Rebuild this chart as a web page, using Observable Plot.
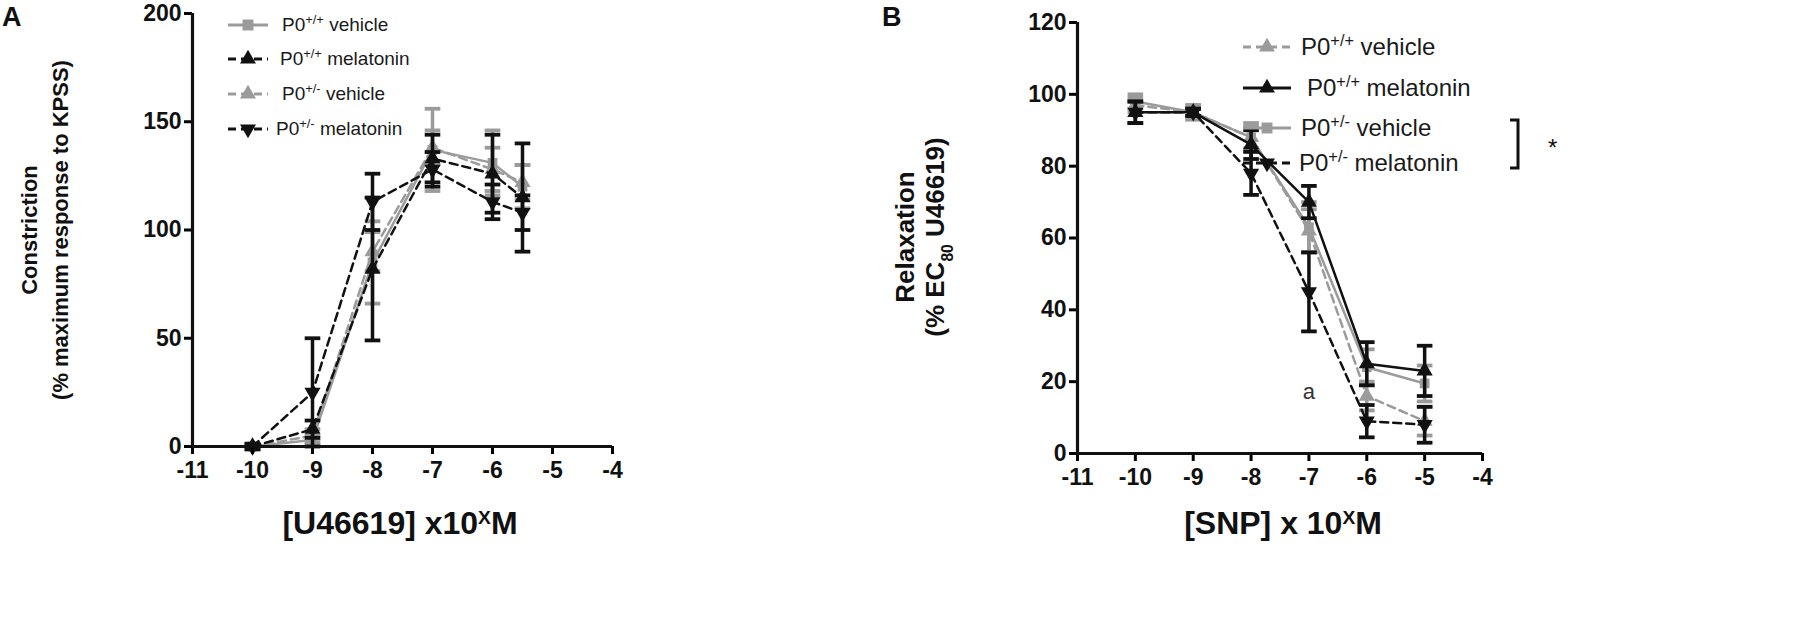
<!DOCTYPE html>
<html><head><meta charset="utf-8">
<script src="https://cdn.jsdelivr.net/npm/d3@7"></script>
<script src="https://cdn.jsdelivr.net/npm/@observablehq/plot@0.6"></script>
<style>
body{margin:0;background:#fff;font-family:"Liberation Sans",Arial,sans-serif;}
#wrap{position:relative;width:1800px;height:621px;overflow:hidden;background:#fff;}
.panel{position:absolute;top:0;}
.leg{position:absolute;color:#1a1a1a;}
.leg .row{position:absolute;left:0;display:flex;align-items:center;white-space:nowrap;}
.leg sup{font-size:0.68em;vertical-align:0.55em;line-height:0;}
</style></head><body><div id="wrap"></div>
<script>
// ---------- data ----------
const seriesNames = ["P0+/+ vehicle", "P0+/+ melatonin", "P0+/- vehicle", "P0+/- melatonin"];
// Panel A: U46619 constriction
const doseA = [-10, -9, -8, -7, -6, -5.5];
const aVehWT  = [0, 3, 85, 137, 131, 120];
const aVehWTe = [1, 2, 19, 19, 15, 10];
const aMelWT  = [0, 8, 82, 133, 126, 115];
const aMelWTe = [1, 4, 33, 11, 18, 25];
const aVehHet  = [0, 5, 90, 138, 128, 122];
const aVehHete = [1, 3, 9, 8, 10, 8];
const aMelHet  = [0, 25, 113, 128, 113, 108];
const aMelHete = [1, 25, 13, 8, 8, 8];
// Panel B: SNP relaxation
const doseB = [-10, -9, -8, -7, -6, -5];
const bVehWT  = [97, 95, 88, 62, 16, 9];
const bVehWTe = [2, 2, 3, 6, 4, 4];
const bMelWT  = [95, 95, 86, 70, 25, 23];
const bMelWTe = [3, 1, 4, 4.5, 6, 7];
const bVehHet  = [98, 95, 88, 63, 24, 19.5];
const bVehHete = [2, 2, 4, 7, 5, 5];
const bMelHet  = [95, 95, 78, 45, 9, 8];
const bMelHete = [3, 1, 6, 11, 4.5, 5];
const xTicks = [-11, -10, -9, -8, -7, -6, -5, -4];
const yTicksA = [0, 50, 100, 150, 200];
const yTicksB = [0, 20, 40, 60, 80, 100, 120];
const noteB = [{x: -7, y: 17, label: "a"}];

// ---------- helpers ----------
const GRAY = "#9b9b9b";
const FONT = "Liberation Sans, Arial, sans-serif";
const capSym = {draw(ctx, size){ const w = Math.sqrt(size); ctx.moveTo(-w, 0); ctx.lineTo(w, 0); }};
const triDown = {draw(ctx, size){
  const y = -Math.sqrt(size / (Math.sqrt(3) * 3));
  ctx.moveTo(0, -y * 2); ctx.lineTo(-Math.sqrt(3) * y, y); ctx.lineTo(Math.sqrt(3) * y, y); ctx.closePath(); }};

function rows(dose, v, e, name){ return dose.map((x, i) => ({x, y: v[i], e: e[i], name})); }

function seriesMarks(data, {color, dash, symbol, r}){
  return [
    Plot.ruleX(data, {x: "x", y1: d => d.y - d.e, y2: d => d.y + d.e, stroke: color, strokeWidth: 3.5}),
    Plot.dot(data, {x: "x", y: d => d.y + d.e, symbol: capSym, r: 4.4, stroke: color, strokeWidth: 3.8, fill: "none"}),
    Plot.dot(data, {x: "x", y: d => d.y - d.e, symbol: capSym, r: 4.4, stroke: color, strokeWidth: 3.8, fill: "none"}),
    Plot.line(data, {x: "x", y: "y", stroke: color, strokeWidth: 2.5, strokeDasharray: dash}),
    Plot.dot(data, {x: "x", y: "y", symbol, r, fill: color, stroke: "none"})
  ];
}

function axes(yTicks){
  const common = {strokeWidth: 3, fontSize: 23, fontWeight: "bold", fill: "#111", label: null, tickFormat: d => String(d)};
  return [
    Plot.axisX({...common, ticks: xTicks, tickSize: 8, tickPadding: 7}),
    Plot.axisY({...common, ticks: yTicks, tickSize: 8, tickPadding: 3}),
    Plot.ruleY([yTicks[0]], {strokeWidth: 3.2, stroke: "#111"}),
    Plot.ruleX([xTicks[0]], {strokeWidth: 3.2, stroke: "#111"})
  ];
}

const wrap = document.getElementById("wrap");

// ---------- Panel A ----------
const A = {
  vehWT: rows(doseA, aVehWT, aVehWTe, seriesNames[0]),
  melWT: rows(doseA, aMelWT, aMelWTe, seriesNames[1]),
  vehHet: rows(doseA, aVehHet, aVehHete, seriesNames[2]),
  melHet: rows(doseA, aMelHet, aMelHete, seriesNames[3])
};
const plotA = Plot.plot({
  width: 700, height: 621,
  marginLeft: 192, marginRight: 88, marginTop: 13, marginBottom: 175,
  style: {fontFamily: FONT, background: "transparent", overflow: "visible"},
  x: {domain: [-11, -4]},
  y: {domain: [0, 200]},
  marks: [
    ...seriesMarks(A.vehWT, {color: GRAY, dash: null, symbol: "square", r: 5.5}),
    ...seriesMarks(A.vehHet, {color: GRAY, dash: "8,5", symbol: "triangle", r: 6}),
    ...seriesMarks(A.melWT, {color: "#111", dash: "8,5", symbol: "triangle", r: 6}),
    ...seriesMarks(A.melHet, {color: "#111", dash: "8,5", symbol: triDown, r: 6}),
    ...axes(yTicksA)
  ]
});
plotA.classList.add("panel"); plotA.style.left = "0px";
wrap.appendChild(plotA);

// ---------- Panel B ----------
const B = {
  vehWT: rows(doseB, bVehWT, bVehWTe, seriesNames[0]),
  melWT: rows(doseB, bMelWT, bMelWTe, seriesNames[1]),
  vehHet: rows(doseB, bVehHet, bVehHete, seriesNames[2]),
  melHet: rows(doseB, bMelHet, bMelHete, seriesNames[3])
};
const plotB = Plot.plot({
  width: 700, height: 621,
  marginLeft: 197, marginRight: 98, marginTop: 22, marginBottom: 168,
  style: {fontFamily: FONT, background: "transparent", overflow: "visible"},
  x: {domain: [-11, -4]},
  y: {domain: [0, 120]},
  marks: [
    ...seriesMarks(B.vehWT, {color: GRAY, dash: "8,5", symbol: "triangle", r: 6}),
    ...seriesMarks(B.vehHet, {color: GRAY, dash: null, symbol: "square", r: 5.5}),
    ...seriesMarks(B.melHet, {color: "#111", dash: "8,5", symbol: triDown, r: 6}),
    ...seriesMarks(B.melWT, {color: "#111", dash: null, symbol: "triangle", r: 6}),
    Plot.text(noteB, {x: "x", y: "y", text: "label", fontSize: 22, fill: "#333"}),
    ...axes(yTicksB)
  ]
});
plotB.classList.add("panel"); plotB.style.left = "880px";
wrap.appendChild(plotB);

// ---------- annotations (titles, panel letters) ----------
function addTexts(svg, items){
  const s = d3.select(svg);
  items.forEach(it => {
    const t = s.append("text").attr("font-family", FONT)
      .attr("font-size", it.size).attr("font-weight", it.weight || "bold").attr("fill", "#111")
      .attr("text-anchor", it.anchor || "middle")
      .attr("transform", `translate(${it.x},${it.y})` + (it.rot ? ` rotate(${it.rot})` : ""));
    it.parts.forEach(p => {
      const ts = t.append("tspan").text(p.t);
      if (p.sup) ts.attr("baseline-shift", "super").attr("font-size", it.size * 0.6);
      if (p.sub) ts.attr("baseline-shift", "sub").attr("font-size", it.size * 0.6);
    });
  });
}
addTexts(plotA, [
  {x: 2, y: 26, size: 27, anchor: "start", parts: [{t: "A"}]},
  {x: 37, y: 230, rot: -90, size: 22, parts: [{t: "Constriction"}]},
  {x: 68, y: 230, rot: -90, size: 22, parts: [{t: "(% maximum response to KPSS)"}]},
  {x: 400, y: 534, size: 32, parts: [{t: "[U46619] x10"}, {t: "X", sup: true}, {t: "M"}]}
]);
addTexts(plotB, [
  {x: 2, y: 26, size: 27, anchor: "start", parts: [{t: "B"}]},
  {x: 34, y: 237, rot: -90, size: 26, parts: [{t: "Relaxation"}]},
  {x: 64, y: 237, rot: -90, size: 26, parts: [{t: "(% EC"}, {t: "80", sub: true}, {t: " U46619)"}]},
  {x: 403, y: 534, size: 32, parts: [{t: "[SNP] x 10"}, {t: "X", sup: true}, {t: "M"}]}
]);

// ---------- legends ----------
function sampleSVG(color, dash, symbol, w){
  const svg = d3.create("svg").attr("width", w).attr("height", 18).style("overflow", "visible");
  svg.append("line").attr("x1", 0).attr("x2", w).attr("y1", 9).attr("y2", 9)
    .attr("stroke", color).attr("stroke-width", 3).attr("stroke-dasharray", dash);
  const sym = symbol === "square" ? d3.symbolSquare : symbol === "down" ? triDown : d3.symbolTriangle;
  svg.append("path").attr("d", d3.symbol(sym, symbol === "square" ? 120 : 110)())
    .attr("transform", `translate(${w/2},9)`).attr("fill", color);
  return svg.node();
}
function legend(left, top, items, fontSize, gapW){
  const div = document.createElement("div");
  div.className = "leg"; div.style.left = left + "px"; div.style.top = top + "px";
  div.style.fontSize = fontSize + "px";
  items.forEach(it => {
    const row = document.createElement("div"); row.className = "row";
    row.style.top = it.dy + "px";
    const smp = sampleSVG(it.color, it.dash, it.symbol, gapW);
    smp.style.marginRight = it.gap + "px";
    row.appendChild(smp);
    const sp = document.createElement("span");
    const m = it.name.match(/^P0(\S+) (.*)$/);
    sp.innerHTML = `P0<sup>${m[1]}</sup> ${m[2]}`;
    row.appendChild(sp);
    div.appendChild(row);
  });
  wrap.appendChild(div);
}
legend(228, 14, [
  {name: seriesNames[0], color: GRAY, dash: null, symbol: "square", dy: 0, gap: 14},
  {name: seriesNames[1], color: "#111", dash: "8,5", symbol: "triangle", dy: 34, gap: 12},
  {name: seriesNames[2], color: GRAY, dash: "8,5", symbol: "triangle", dy: 69, gap: 14},
  {name: seriesNames[3], color: "#111", dash: "8,5", symbol: "down", dy: 104, gap: 8}
], 19, 40);
legend(1243, 33, [
  {name: seriesNames[0], color: GRAY, dash: "8,5", symbol: "triangle", dy: 0, gap: 10},
  {name: seriesNames[1], color: "#111", dash: null, symbol: "triangle", dy: 41, gap: 16},
  {name: seriesNames[2], color: GRAY, dash: null, symbol: "square", dy: 81, gap: 10},
  {name: seriesNames[3], color: "#111", dash: "8,5", symbol: "down", dy: 116, gap: 8}
], 24, 48);

// bracket with asterisk
const br = d3.select(wrap).append("svg").style("position", "absolute").style("left", "1502px").style("top", "110px")
  .attr("width", 70).attr("height", 70);
br.append("path").attr("d", "M8,10 H16 V58 H8").attr("fill", "none").attr("stroke", "#111").attr("stroke-width", 3);
br.append("text").attr("x", 46).attr("y", 46).attr("font-size", 24).attr("font-family", FONT).attr("fill", "#111").text("*");
</script></body></html>
